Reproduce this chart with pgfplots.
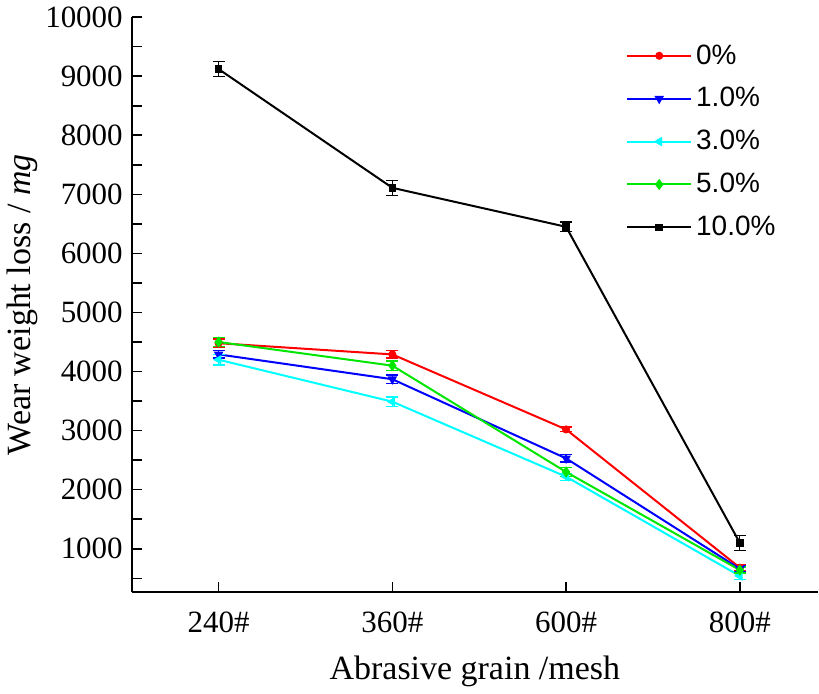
\documentclass[border=0pt]{standalone}
\usepackage{pgfplots}
\pgfplotsset{compat=1.18}
\usepackage{fontspec}
\setmainfont{Liberation Serif}
\newfontfamily\arialf{Liberation Sans}
\definecolor{mgreen}{RGB}{0,230,0}
\definecolor{mcyan}{RGB}{0,255,255}
\begin{document}
\begin{tikzpicture}
\begin{axis}[
  scale only axis,
  width=343.5pt, height=288pt,
  xmin=-0.5, xmax=3.45,
  ymin=260, ymax=10000,
  axis x line*=bottom, axis y line*=left,
  axis line style={line width=1pt},
  xtick={0,1,2,3},
  xticklabels={240\#,360\#,600\#,800\#},
  ytick={1000,2000,...,10000},
  minor ytick={500,1500,...,9500},
  scaled y ticks=false,
  yticklabel={\pgfmathprintnumber[fixed,precision=0,1000 sep={}]{\tick}},
  tick align=inside,
  major tick length=5pt, minor tick length=5pt,
  tick style={line width=0.8pt, black},
  /pgf/number format/assume math mode=true,
  /pgf/number format/1000 sep={},
  ticklabel style={font=\fontsize{15.5}{17}\selectfont},
  xticklabel style={yshift=-6pt},
  yticklabel style={xshift=-1pt},
  xlabel={Abrasive grain /mesh},
  ylabel={Wear weight loss / \textit{mg}},
  label style={font=\fontsize{17}{19}\selectfont},
  xlabel style={yshift=-5pt},
  ylabel style={yshift=-3pt},
  legend style={draw=none, fill=none, at={(0.72,0.96)}, anchor=north west,
    font=\arialf\fontsize{14}{16}\selectfont, row sep=6.2pt, inner sep=0pt},
  legend cell align=left,
  legend image code/.code={
    \draw[mark repeat=2,mark phase=2,#1] plot coordinates {(0pt,0pt) (16pt,0pt) (32pt,0pt)};
  },
  every axis plot/.append style={line width=1pt},
  error bars/error bar style={line width=0.6pt},
  error bars/error mark options={rotate=90, mark size=3pt, line width=0.6pt},
]
\addplot[red, mark=*, mark size=1.5pt, error bars/.cd, y dir=both, y explicit]
  coordinates {(0,4480) +- (0,70) (1,4290) +- (0,60) (2,3020) +- (0,40) (3,680) +- (0,50)};
\addlegendentry{0\%}
\addplot[blue, mark=triangle*, mark options={rotate=180}, mark size=1.8pt, error bars/.cd, y dir=both, y explicit]
  coordinates {(0,4290) +- (0,60) (1,3870) +- (0,70) (2,2530) +- (0,60) (3,660) +- (0,50)};
\addlegendentry{1.0\%}
\addplot[mcyan, mark=triangle*, mark options={rotate=90}, mark size=1.8pt, error bars/.cd, y dir=both, y explicit]
  coordinates {(0,4200) +- (0,90) (1,3490) +- (0,80) (2,2220) +- (0,60) (3,540) +- (0,60)};
\addlegendentry{3.0\%}
\addplot[mgreen, mark=diamond*, mark size=2pt, error bars/.cd, y dir=both, y explicit]
  coordinates {(0,4500) +- (0,80) (1,4100) +- (0,80) (2,2300) +- (0,80) (3,640) +- (0,50)};
\addlegendentry{5.0\%}
\addplot[black, mark=square*, mark size=1.4pt, error bars/.cd, y dir=both, y explicit]
  coordinates {(0,9120) +- (0,130) (1,7110) +- (0,130) (2,6450) +- (0,80) (3,1100) +- (0,130)};
\addlegendentry{10.0\%}
\end{axis}
\end{tikzpicture}
\end{document}
